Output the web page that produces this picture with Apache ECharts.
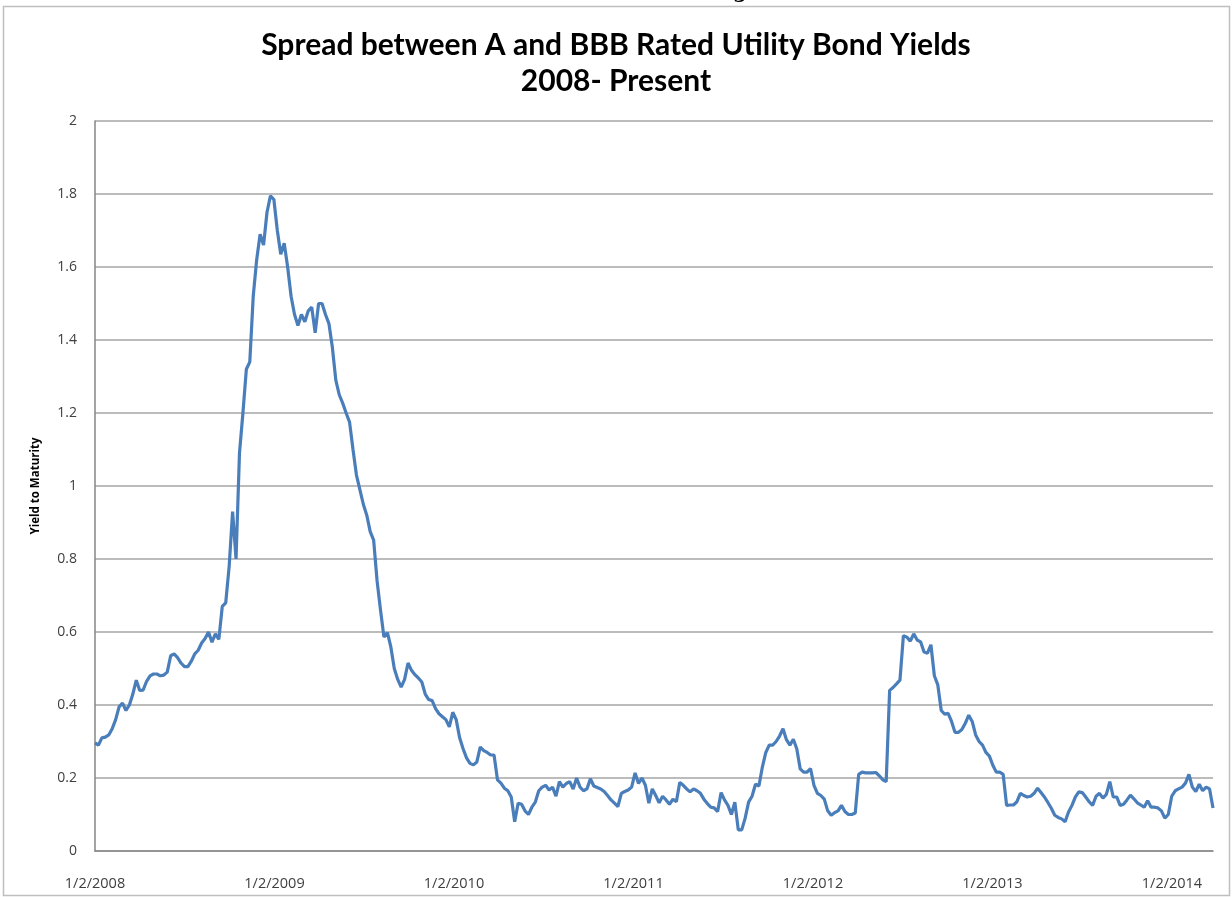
<!DOCTYPE html>
<html>
<head>
<meta charset="utf-8">
<script src="https://cdn.jsdelivr.net/npm/echarts@6/dist/echarts.min.js"></script>
<style>
	html, body { margin: 0; padding: 0; background: #fff; }
	#chart { width: 1232px; height: 897px; }
</style>
</head>
<body>
<div id="chart"></div>
<script>
// A - BBB utility bond spread, one reading per week from 1/2/2008
var startYear = 2008;
var weekInYears = 7 / 365.25;
var yearLabels = [2008, 2009, 2010, 2011, 2012, 2013, 2014];
var yTicks = [0, 0.2, 0.4, 0.6, 0.8, 1, 1.2, 1.4, 1.6, 1.8, 2];

var spread2008 = [
	0.296, 0.29, 0.31, 0.312, 0.318, 0.335, 0.36, 0.395, 0.405, 0.385,
	0.40, 0.43, 0.468, 0.44, 0.441, 0.465, 0.48, 0.485, 0.485, 0.48,
	0.482, 0.49, 0.535, 0.54, 0.53, 0.515, 0.505, 0.505, 0.52, 0.54,
	0.55, 0.57, 0.582, 0.60, 0.572, 0.595, 0.58, 0.67, 0.68, 0.78,
	0.93, 0.80, 1.09, 1.20, 1.32, 1.34, 1.52, 1.62, 1.69, 1.66,
	1.75, 1.795
];
var spread2009 = [
	1.785, 1.70, 1.635, 1.665, 1.60, 1.52, 1.47, 1.44, 1.47, 1.45,
	1.48, 1.49, 1.42, 1.50, 1.50, 1.47, 1.445, 1.38, 1.29, 1.25,
	1.227, 1.20, 1.175, 1.10, 1.03, 0.99, 0.95, 0.92, 0.875, 0.852,
	0.74, 0.66, 0.586, 0.598, 0.559, 0.50, 0.47, 0.449, 0.47, 0.515,
	0.495, 0.483, 0.474, 0.463, 0.43, 0.415, 0.412, 0.39, 0.376, 0.368,
	0.36, 0.34
];
var spread2010 = [
	0.38, 0.36, 0.31, 0.28, 0.255, 0.24, 0.236, 0.244, 0.285, 0.275,
	0.27, 0.263, 0.263, 0.195, 0.186, 0.172, 0.165, 0.148, 0.08, 0.131,
	0.128, 0.11, 0.10, 0.12, 0.134, 0.165, 0.175, 0.18, 0.167, 0.175,
	0.15, 0.19, 0.175, 0.185, 0.19, 0.17, 0.20, 0.175, 0.165, 0.17,
	0.198, 0.178, 0.174, 0.17, 0.163, 0.152, 0.14, 0.131, 0.122, 0.158,
	0.163, 0.167, 0.175
];
var spread2011 = [
	0.214, 0.185, 0.20, 0.18, 0.131, 0.17, 0.152, 0.132, 0.15, 0.14,
	0.128, 0.142, 0.135, 0.188, 0.18, 0.17, 0.162, 0.17, 0.165, 0.158,
	0.142, 0.13, 0.12, 0.118, 0.108, 0.16, 0.14, 0.125, 0.10, 0.134,
	0.058, 0.058, 0.09, 0.134, 0.15, 0.183, 0.178, 0.23, 0.27, 0.29,
	0.29, 0.30, 0.315, 0.335, 0.305, 0.29, 0.306, 0.28, 0.225, 0.216,
	0.216, 0.226
];
var spread2012 = [
	0.18, 0.158, 0.152, 0.142, 0.11, 0.098, 0.105, 0.11, 0.125, 0.108,
	0.10, 0.10, 0.104, 0.21, 0.216, 0.214, 0.214, 0.214, 0.215, 0.206,
	0.195, 0.19, 0.44, 0.448, 0.458, 0.468, 0.59, 0.586, 0.575, 0.595,
	0.578, 0.573, 0.545, 0.542, 0.565, 0.48, 0.455, 0.385, 0.375, 0.377,
	0.355, 0.325, 0.325, 0.333, 0.35, 0.372, 0.355, 0.318, 0.30, 0.29,
	0.27, 0.26, 0.235
];
var spread2013 = [
	0.216, 0.216, 0.21, 0.125, 0.126, 0.126, 0.135, 0.158, 0.152, 0.148,
	0.15, 0.158, 0.172, 0.16, 0.148, 0.133, 0.117, 0.098, 0.092, 0.088,
	0.08, 0.107, 0.125, 0.148, 0.162, 0.16, 0.148, 0.135, 0.125, 0.15,
	0.158, 0.145, 0.155, 0.19, 0.148, 0.148, 0.125, 0.128, 0.14, 0.153,
	0.143, 0.132, 0.126, 0.12, 0.138, 0.12, 0.12, 0.118, 0.11, 0.09,
	0.10, 0.15
];
var spread2014 = [
	0.165, 0.17, 0.175, 0.186, 0.21, 0.175, 0.163, 0.183, 0.165, 0.175,
	0.17, 0.118
];

var spread = [].concat(spread2008, spread2009, spread2010, spread2011,
	spread2012, spread2013, spread2014);

var seriesData = spread.map(function (v, i) {
	return [startYear + i * weekInYears, v];
});
var lastX = startYear + (spread.length - 1) * weekInYears;

var myChart = echarts.init(document.getElementById('chart'));
var option = {
	backgroundColor: '#fff',
	animation: false,
	title: {
		text: 'Spread between A and BBB Rated Utility Bond Yields\n2008- Present',
		left: 'center',
		top: 22,
		textStyle: {
			fontFamily: 'Lato',
			fontWeight: 'bold',
			fontSize: 30,
			lineHeight: 36,
			color: '#000'
		}
	},
	grid: {
		left: 95,
		right: 19,
		top: 121,
		bottom: 46
	},
	xAxis: {
		type: 'value',
		min: startYear,
		max: lastX,
		interval: 1,
		splitLine: { show: false },
		axisTick: { show: false },
		axisLine: { lineStyle: { color: '#868686', width: 1.5 } },
		axisLabel: {
			showMaxLabel: false,
			margin: 25,
			fontFamily: 'Open Sans',
			fontSize: 14.5,
			color: '#404040',
			formatter: function (v) {
				var y = Math.round(v);
				return Math.abs(v - y) < 1e-6 && yearLabels.indexOf(y) >= 0 ? '1/2/' + y : '';
			}
		}
	},
	yAxis: {
		type: 'value',
		min: yTicks[0],
		max: yTicks[yTicks.length - 1],
		interval: 0.2,
		name: 'Yield to Maturity',
		nameLocation: 'middle',
		nameGap: 53,
		nameRotate: 90,
		nameTextStyle: {
			fontFamily: 'Open Sans',
			fontWeight: 'bold',
			fontSize: 11.5,
			color: '#000'
		},
		axisLine: { show: true, lineStyle: { color: '#868686', width: 1.5 } },
		axisTick: { show: false },
		splitLine: { lineStyle: { color: '#a6a6a6', width: 1.5 } },
		axisLabel: {
			margin: 18,
			fontFamily: 'Open Sans',
			fontSize: 14,
			color: '#404040',
			formatter: function (v) {
				return String(Math.round(v * 10) / 10);
			}
		}
	},
	graphic: [{
		type: 'rect',
		shape: { x: 3.5, y: 6.5, width: 1226, height: 889 },
		style: { fill: 'none', stroke: '#bfbfbf', lineWidth: 1.5 },
		silent: true
	}, {
		type: 'text',
		left: 733,
		top: -17,
		style: { text: 'g', font: 'bold 20px "DejaVu Serif"', fill: '#000' },
		silent: true
	}],
	series: [{
		name: 'Spread',
		type: 'line',
		data: seriesData,
		showSymbol: false,
		lineStyle: { color: '#4a7ebb', width: 3.2 },
		itemStyle: { color: '#4a7ebb' }
	}]
};
myChart.setOption(option);
</script>
</body>
</html>
